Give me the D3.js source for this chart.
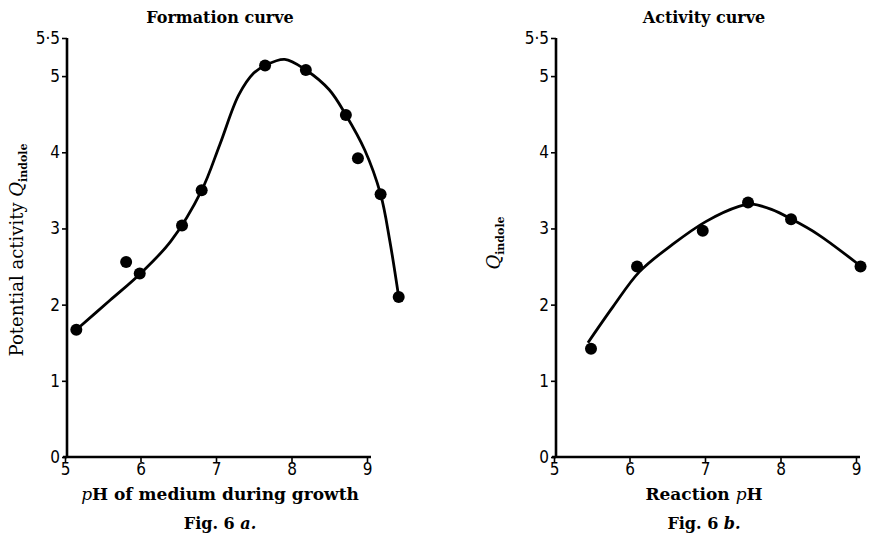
<!DOCTYPE html>
<html>
<head>
<meta charset="utf-8">
<script src="https://cdn.jsdelivr.net/npm/d3@7"></script>
<style>
  body { margin: 0; background: #fff; }
  .tick text { font-family: "Liberation Sans Narrow", "DejaVu Sans Condensed", sans-serif; font-size: 17px; fill: #000; }
  .lbl { font-family: "DejaVu Serif", "Liberation Serif", serif; fill: #000; }
</style>
</head>
<body>
<div id="chart"></div>
<script>
// Fig. 6a - formation curve (measured points)
var formPh = [5.15, 5.81, 5.99, 6.55, 6.81, 7.65, 8.19, 8.72, 8.88, 9.18, 9.42];
var formQ  = [1.67, 2.56, 2.41, 3.04, 3.50, 5.14, 5.08, 4.49, 3.92, 3.45, 2.10];
// hand drawn smooth curve
var formCurvePh = [5.15, 5.6, 6.0, 6.4, 6.81, 7.05, 7.3, 7.5, 7.65, 7.91, 8.19, 8.5, 8.72, 8.97, 9.18, 9.30, 9.42];
var formCurveQ  = [1.67, 2.06, 2.41, 2.83, 3.50, 4.10, 4.75, 5.04, 5.14, 5.22, 5.08, 4.82, 4.49, 4.03, 3.45, 2.85, 2.10];

// Fig. 6b - activity curve
var actPh = [5.49, 6.10, 6.97, 7.57, 8.14, 9.06];
var actQ  = [1.42, 2.50, 2.97, 3.34, 3.12, 2.50];
var actCurvePh = [5.45, 5.78, 6.13, 6.57, 7.01, 7.45, 7.62, 7.88, 8.15, 8.5, 9.03];
var actCurveQ  = [1.50, 1.97, 2.43, 2.79, 3.09, 3.29, 3.32, 3.25, 3.12, 2.92, 2.53];

var xTicks = [5, 6, 7, 8, 9];
var yTicks = [0, 1, 2, 3, 4, 5, 5.5];

var width = 869, height = 543;
var svg = d3.select("#chart").append("svg")
    .attr("width", width)
    .attr("height", height);

function panel(opt) {
    var x = d3.scaleLinear().domain([5, 9]).range([opt.left, opt.left + 302]);
    var y = d3.scaleLinear().domain([0, 5.5]).range([457, 38]);

    var fmt = function(d) { return d === 5.5 ? "5\u00b75" : d; };

    var gx = svg.append("g")
        .attr("transform", "translate(0,457)")
        .call(d3.axisBottom(x).tickValues(xTicks).tickSize(5).tickPadding(1).tickFormat(d3.format("d")));
    gx.select(".domain").attr("d", "M" + (opt.left - 2) + ",0H" + (x(9) + 4))
        .attr("stroke", "#000").attr("stroke-width", 2.6);
    gx.selectAll(".tick line").attr("stroke-width", 1.6);

    var gy = svg.append("g")
        .attr("transform", "translate(" + (opt.left + 2) + ",0)")
        .call(d3.axisLeft(y).tickValues(yTicks).tickSize(5).tickPadding(2).tickFormat(fmt));
    gy.select(".domain").attr("d", "M0," + y(5.5) + "V" + (457 + 1))
        .attr("stroke", "#000").attr("stroke-width", 2.6);
    gy.selectAll(".tick line").attr("stroke-width", 1.6);

    var curve = d3.zip(opt.cx, opt.cy);
    var line = d3.line()
        .x(function(d) { return x(d[0]); })
        .y(function(d) { return y(d[1]); })
        .curve(d3.curveCatmullRom.alpha(0.5));
    svg.append("path")
        .attr("d", line(curve))
        .attr("fill", "none")
        .attr("stroke", "#000")
        .attr("stroke-width", 2.8);

    svg.selectAll(null)
        .data(d3.zip(opt.px, opt.py))
        .enter().append("circle")
        .attr("cx", function(d) { return x(d[0]); })
        .attr("cy", function(d) { return y(d[1]); })
        .attr("r", 6)
        .attr("fill", "#000");

    svg.append("text").attr("class", "lbl")
        .attr("x", opt.titleX).attr("y", 23)
        .attr("text-anchor", "middle")
        .attr("font-size", 16).attr("font-weight", "bold")
        .text(opt.title);

    var xl = svg.append("text").attr("class", "lbl")
        .attr("x", opt.titleX).attr("y", 500)
        .attr("text-anchor", "middle")
        .attr("font-size", 17).attr("font-weight", "bold");
    opt.xlabel(xl);

    svg.append("text").attr("class", "lbl")
        .attr("x", opt.titleX).attr("y", 529)
        .attr("text-anchor", "middle")
        .attr("font-size", 16).attr("font-weight", "bold")
        .text("Fig. 6 ")
        .append("tspan").attr("font-style", "italic").text(opt.fig);

    var yl = svg.append("text").attr("class", "lbl")
        .attr("transform", "translate(" + opt.ylX + "," + opt.ylY + ") rotate(-90)")
        .attr("text-anchor", "middle")
        .attr("font-size", 18);
    if (opt.ylabel) yl.append("tspan").text(opt.ylabel);
    yl.append("tspan").attr("font-style", "italic").text("Q");
    yl.append("tspan").attr("font-size", 11).attr("font-weight", "bold").attr("dy", 4).text("indole");
}

panel({
    left: 65, px: formPh, py: formQ, cx: formCurvePh, cy: formCurveQ,
    title: "Formation curve", titleX: 220, fig: "a.",
    ylX: 23, ylY: 250, ylabel: "Potential activity ",
    xlabel: function(t) {
        t.append("tspan").attr("font-style", "italic").attr("font-weight", "normal").text("p");
        t.append("tspan").text("H of medium during growth");
    }
});

panel({
    left: 554, px: actPh, py: actQ, cx: actCurvePh, cy: actCurveQ,
    title: "Activity curve", titleX: 704, fig: "b.",
    ylX: 500, ylY: 243, ylabel: null,
    xlabel: function(t) {
        t.append("tspan").text("Reaction ");
        t.append("tspan").attr("font-style", "italic").attr("font-weight", "normal").text("p");
        t.append("tspan").text("H");
    }
});
</script>
</body>
</html>
